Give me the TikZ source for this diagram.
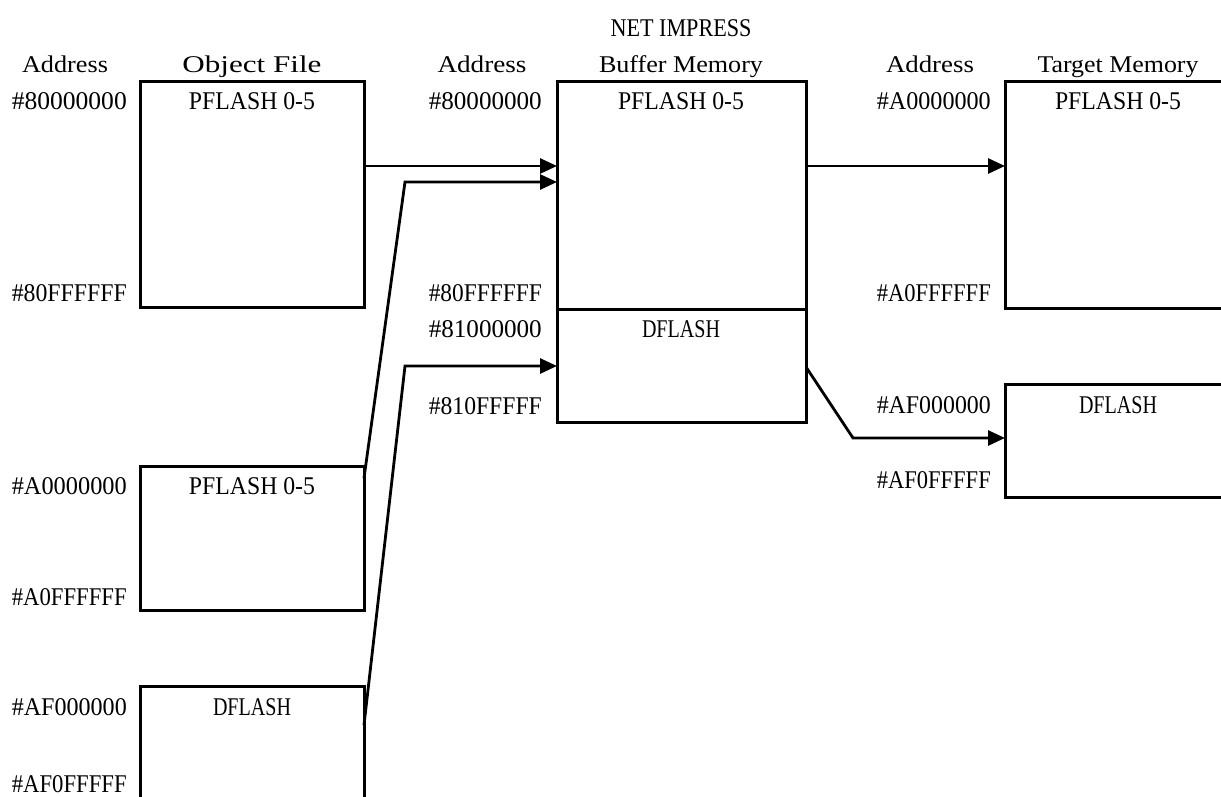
\documentclass[tikz,border=0pt]{standalone}
\usepackage{fontspec}
\usepackage{graphicx}
\setmainfont{Liberation Serif}
\usetikzlibrary{arrows.meta}
\newcommand{\fw}[2]{\resizebox{#1pt}{\height}{#2}}
\begin{document}
\begin{tikzpicture}[x=1pt,y=-1pt,
 box/.style={draw,line width=3pt,anchor=north west,inner sep=0pt,outer sep=0pt},
 conn/.style={line width=2.8pt,-{Triangle[length=17pt,width=15pt]}},
 hd/.style={anchor=base,font=\fontsize{24}{28}\selectfont,inner sep=0pt},
 ad/.style={anchor=base east,font=\fontsize{25.5}{30}\selectfont,inner sep=0pt},
 lb/.style={anchor=base,font=\fontsize{25.5}{30}\selectfont,inner sep=0pt}]
\clip (0,0) rectangle (1221,797);
\fill[white] (0,0) rectangle (1221,797);
% headers
\node[hd] (h1) at (65,73) {\fw{86}{Address}};
\node[hd] (h2) at (252,73) {\fw{139}{Object File}};
\node[hd] (h3) at (482,73) {\fw{89}{Address}};
\node[lb] (h4) at (681,37) {\fw{141}{NET IMPRESS}};
\node[hd] (h5) at (681,73) {\fw{164}{Buffer Memory}};
\node[hd] (h6) at (930,73) {\fw{88}{Address}};
\node[hd] (h7) at (1118,73) {\fw{161}{Target Memory}};
% boxes
\node[box,minimum width=224pt,minimum height=225pt] (ob1) at (140,82) {};
\node[box,minimum width=224pt,minimum height=144pt] (ob2) at (140,466) {};
\node[box,minimum width=224pt,minimum height=140pt] (ob3) at (140,686) {};
\node[box,minimum width=249pt,minimum height=227pt] (bufP) at (557,82) {};
\node[box,minimum width=249pt,minimum height=113pt] (bufD) at (557,309) {};
\node[box,minimum width=226pt,minimum height=226pt] (tg1) at (1005,82) {};
\node[box,minimum width=226pt,minimum height=113pt] (tg2) at (1005,384) {};
% box labels
\node[lb] (l1) at (252,110) {\fw{126}{PFLASH 0-5}};
\node[lb] (l2) at (252,494) {\fw{126}{PFLASH 0-5}};
\node[lb] (l3) at (252,715) {\fw{78}{DFLASH}};
\node[lb] (l4) at (681,110) {\fw{126}{PFLASH 0-5}};
\node[lb] (l5) at (681,337) {\fw{78}{DFLASH}};
\node[lb] (l6) at (1118,110) {\fw{126}{PFLASH 0-5}};
\node[lb] (l7) at (1118,413) {\fw{78}{DFLASH}};
% addresses left
\node[ad] (a1) at (127,110) {\fw{115}{\#80000000}};
\node[ad] (a2) at (127,301) {\fw{115}{\#80FFFFFF}};
\node[ad] (a3) at (127,494) {\fw{115}{\#A0000000}};
\node[ad] (a4) at (127,605) {\fw{115}{\#A0FFFFFF}};
\node[ad] (a5) at (127,715) {\fw{115}{\#AF000000}};
\node[ad] (a6) at (127,792) {\fw{115}{\#AF0FFFFF}};
% addresses middle
\node[ad] (b1) at (542,110) {\fw{113}{\#80000000}};
\node[ad] (b2) at (542,301) {\fw{113}{\#80FFFFFF}};
\node[ad] (b3) at (542,337) {\fw{113}{\#81000000}};
\node[ad] (b4) at (542,414) {\fw{113}{\#810FFFFF}};
% addresses right
\node[ad] (c1) at (991,110) {\fw{114}{\#A0000000}};
\node[ad] (c2) at (991,301) {\fw{114}{\#A0FFFFFF}};
\node[ad] (c3) at (991,413) {\fw{114}{\#AF000000}};
\node[ad] (c4) at (991,488) {\fw{114}{\#AF0FFFFF}};
% connectors
\draw[conn] (ob1.east |- 0,166) -- (bufP.west |- 0,166);
\draw[conn] (ob2.east |- 0,478) -- (405,182) -- (bufP.west |- 0,182);
\draw[conn] (ob3.east |- 0,725) -- (405,366) -- (bufD.west |- 0,366);
\draw[conn] (bufP.east |- 0,166) -- (tg1.west |- 0,166);
\draw[conn] (bufD.east |- 0,367) -- (853,438) -- (tg2.west |- 0,438);
\end{tikzpicture}
\end{document}
